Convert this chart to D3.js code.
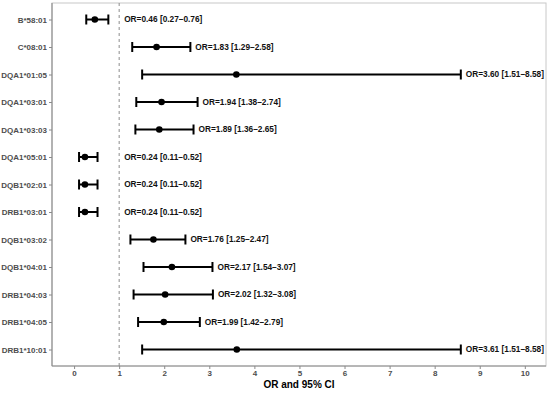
<!DOCTYPE html>
<html><head><meta charset="utf-8">
<script src="https://cdn.jsdelivr.net/npm/d3@7"></script>
<style>body{margin:0;background:#fff}svg{display:block}</style>
</head><body>
<svg id="c" width="550" height="393"></svg>
<script>
const alleles = ["B*58:01","C*08:01","DQA1*01:05","DQA1*03:01","DQA1*03:03","DQA1*05:01","DQB1*02:01","DRB1*03:01","DQB1*03:02","DQB1*04:01","DRB1*04:03","DRB1*04:05","DRB1*10:01"];
const orValues = [0.46,1.83,3.60,1.94,1.89,0.24,0.24,0.24,1.76,2.17,2.02,1.99,3.61];
const ciLow = [0.27,1.29,1.51,1.38,1.36,0.11,0.11,0.11,1.25,1.54,1.32,1.42,1.51];
const ciHigh = [0.76,2.58,8.58,2.74,2.65,0.52,0.52,0.52,2.47,3.07,3.08,2.79,8.58];
const xTicks = [0,1,2,3,4,5,6,7,8,9,10];

const svg = d3.select("#c");
const L=52, R=546, T=3, B=366;
const x = d3.scaleLinear().domain([-0.49,10.47]).range([L,R]);
const y = d3.scalePoint().domain(alleles).range([T,B]).padding(0.6);
const fmt = d3.format(".2f");

svg.append("rect").attr("x",L).attr("y",T).attr("width",R-L).attr("height",B-T)
  .attr("fill","none").attr("stroke","#c8c8c8").attr("stroke-width",1);

// reference line
svg.append("line").attr("x1",x(1)).attr("x2",x(1)).attr("y1",T).attr("y2",B)
  .attr("stroke","#8c8c8c").attr("stroke-width",1).attr("stroke-dasharray","3,3");

// axes
const ax = svg.append("g").attr("transform",`translate(0,${B})`)
  .call(d3.axisBottom(x).tickValues(xTicks).tickFormat(d3.format("d")).tickSize(3));
const ay = svg.append("g").attr("transform",`translate(${L},0)`)
  .call(d3.axisLeft(y).tickSize(3));
[ax,ay].forEach(g=>{
  g.select(".domain").attr("stroke","#8a8a8a").attr("stroke-width",1.1);
  g.selectAll(".tick line").attr("stroke","#8a8a8a");
  g.selectAll(".tick text").attr("fill","#4d4d4d").attr("font-family","Liberation Sans, Arial, sans-serif")
   .attr("font-weight","bold").attr("font-size",8);
});
ax.select(".domain").attr("d",`M${L},0H${R}`);
ay.select(".domain").attr("d",`M0,${T}V${B}`);
ax.selectAll(".tick text").attr("y",4).attr("dy","0.71em");
ay.selectAll(".tick text").attr("x",-5);

const rows = alleles.map((a,i)=>({a,or:orValues[i],lo:ciLow[i],hi:ciHigh[i]}));
const g = svg.append("g");
const cap = 5;
rows.forEach(d=>{
  const yy = y(d.a);
  g.append("line").attr("x1",x(d.lo)).attr("x2",x(d.hi)).attr("y1",yy).attr("y2",yy)
    .attr("stroke","#000").attr("stroke-width",2);
  [d.lo,d.hi].forEach(v=>g.append("line").attr("x1",x(v)).attr("x2",x(v))
    .attr("y1",yy-cap).attr("y2",yy+cap).attr("stroke","#000").attr("stroke-width",2));
  g.append("circle").attr("cx",x(d.or)).attr("cy",yy).attr("r",3.3).attr("fill","#000");
  g.append("text").attr("x",x(Math.max(d.hi,1))+5).attr("y",yy).attr("dy","0.35em")
    .attr("font-family","Liberation Sans, Arial, sans-serif").attr("font-weight","bold")
    .attr("font-size",8.3).attr("fill","#111")
    .text(`OR=${fmt(d.or)} [${fmt(d.lo)}–${fmt(d.hi)}]`);
});

svg.append("text").attr("x",(L+R)/2).attr("y",388).attr("text-anchor","middle")
  .attr("font-family","Liberation Sans, Arial, sans-serif").attr("font-weight","bold")
  .attr("font-size",10).attr("fill","#000").text("OR and 95% CI");
</script>
</body></html>
